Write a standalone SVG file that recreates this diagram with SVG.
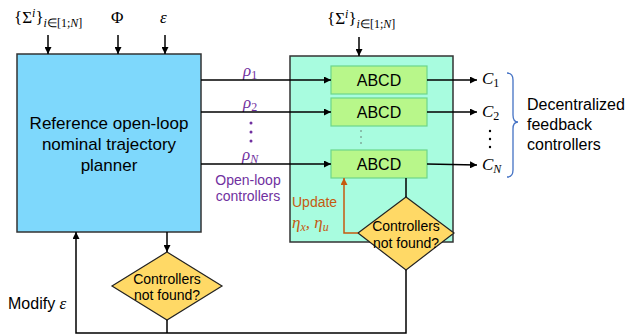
<svg xmlns="http://www.w3.org/2000/svg" width="627" height="335" viewBox="0 0 627 335">
<defs>
<marker id="ah" viewBox="0 0 10 10" refX="10" refY="5" markerWidth="7" markerHeight="7" markerUnits="userSpaceOnUse" orient="auto"><path d="M0,0 L10,5 L0,10 z" fill="#000"/></marker>
<marker id="aho" viewBox="0 0 10 10" refX="10" refY="5" markerWidth="7" markerHeight="7" markerUnits="userSpaceOnUse" orient="auto"><path d="M0,0 L10,5 L0,10 z" fill="#C55A11"/></marker>
</defs>
<style>
.t{font-family:"Liberation Sans",Arial,sans-serif;font-size:16px;fill:#000}
.ts{font-family:"Liberation Sans",Arial,sans-serif;font-size:14px;fill:#000}
.m{font-family:"Liberation Serif","Times New Roman",serif;font-style:italic;font-size:17px}
.mu{font-family:"Liberation Serif","Times New Roman",serif;font-size:17px}
.sub{font-size:12px}
.up{font-style:normal}
.pur{fill:#7030A0}
.org{fill:#C55A11}
.ln{stroke:#000;stroke-width:1.5;fill:none}
.abcd{fill:#B8F78A;stroke:#6DD68A;stroke-width:1.2}
.dia{fill:#FFD966;stroke:#222;stroke-width:1.2}
</style>
<rect width="627" height="335" fill="#fff"/>
<g id="inputs">
<text x="14" y="23" class="mu">{Σ<tspan dy="-6" class="sub m">i</tspan><tspan dy="6">}</tspan><tspan dy="4" class="sub m">i</tspan><tspan class="sub">∈[1;</tspan><tspan class="sub m">N</tspan><tspan class="sub">]</tspan></text>
<text x="111" y="23" class="mu">Φ</text>
<text x="160" y="23" class="m">ε</text>
<text x="327" y="24" class="mu">{Σ<tspan dy="-6" class="sub m">i</tspan><tspan dy="6">}</tspan><tspan dy="4" class="sub m">i</tspan><tspan class="sub">∈[1;</tspan><tspan class="sub m">N</tspan><tspan class="sub">]</tspan></text>
</g>
<g id="planner">
<rect x="17" y="54" width="184" height="178" fill="#7ED8FC" stroke="#333" stroke-width="1.5"/>
<text x="109" y="129" class="t" text-anchor="middle" style="font-size:17px">Reference open-loop</text>
<text x="109" y="150" class="t" text-anchor="middle" style="font-size:17px">nominal trajectory</text>
<text x="109" y="171" class="t" text-anchor="middle" style="font-size:17px">planner</text>
</g>
<g id="controller-box">
<rect x="290" y="56" width="163" height="186" fill="#A8FCDF" stroke="#333" stroke-width="1.5"/>
</g>
<g id="abcd1"><rect x="331" y="66" width="96" height="28" class="abcd"/><text x="379" y="86" class="t" text-anchor="middle">ABCD</text></g>
<g id="abcd2"><rect x="331" y="98" width="96" height="28" class="abcd"/><text x="379" y="118" class="t" text-anchor="middle">ABCD</text></g>
<g id="abcd3"><rect x="331" y="150" width="96" height="28" class="abcd"/><text x="379" y="170" class="t" text-anchor="middle">ABCD</text></g>
<g id="dots-mid" fill="#555"><circle cx="361" cy="131" r="0.7"/><circle cx="361" cy="137" r="0.7"/><circle cx="361" cy="143" r="0.7"/></g>
<g id="decision-inner">
<polygon points="406,197 454,233 406,270 358,233" class="dia"/>
<text x="406" y="231" class="ts" text-anchor="middle">Controllers</text>
<text x="406" y="248" class="ts" text-anchor="middle">not found?</text>
</g>
<g id="decision-outer">
<polygon points="167,252 222,286 167,320 112,286" class="dia"/>
<text x="167" y="284" class="ts" text-anchor="middle">Controllers</text>
<text x="167" y="300" class="ts" text-anchor="middle">not found?</text>
</g>
<g id="labels">
<text x="243" y="76" class="m pur">ρ<tspan dy="3" class="sub up">1</tspan></text>
<text x="243" y="108" class="m pur">ρ<tspan dy="3" class="sub up">2</tspan></text>
<g><circle cx="251" cy="123" r="1.5" fill="#7030A0"/><circle cx="251" cy="132" r="1.5" fill="#7030A0"/><circle cx="251" cy="141" r="1.5" fill="#7030A0"/></g>
<text x="242" y="160" class="m pur">ρ<tspan dy="3" class="sub">N</tspan></text>
<text x="248" y="185" class="ts pur" text-anchor="middle">Open-loop</text>
<text x="248" y="201" class="ts pur" text-anchor="middle">controllers</text>
<text x="292" y="207" class="ts org">Update</text>
<text x="292" y="228" class="m org">η<tspan dy="3" class="sub">x</tspan><tspan dy="-3">, η</tspan><tspan dy="3" class="sub">u</tspan></text>
<text x="482" y="84" class="m">C<tspan dy="3" class="sub up">1</tspan></text>
<text x="482" y="117" class="m">C<tspan dy="3" class="sub up">2</tspan></text>
<g fill="#000"><circle cx="490" cy="131" r="1.2"/><circle cx="490" cy="139" r="1.2"/><circle cx="490" cy="147" r="1.2"/></g>
<text x="482" y="170" class="m">C<tspan dy="3" class="sub">N</tspan></text>
<path d="M507,73 Q513,73 513,80 L513,115 Q513,122 518,122 Q513,122 513,129 L513,170 Q513,177 507,177" fill="none" stroke="#4472C4" stroke-width="1.3"/>
<text x="527" y="110" class="t">Decentralized</text>
<text x="527" y="130" class="t">feedback</text>
<text x="527" y="150" class="t">controllers</text>
<text x="8" y="309" class="t">Modify <tspan class="m">ε</tspan></text>
</g>
<g id="connectors">
<line x1="48" y1="35" x2="48" y2="54" class="ln" marker-end="url(#ah)"/>
<line x1="118" y1="35" x2="118" y2="54" class="ln" marker-end="url(#ah)"/>
<line x1="165" y1="35" x2="165" y2="54" class="ln" marker-end="url(#ah)"/>
<line x1="359" y1="37" x2="359" y2="56" class="ln" marker-end="url(#ah)"/>
<line x1="201" y1="80" x2="331" y2="80" class="ln" marker-end="url(#ah)"/>
<line x1="201" y1="112" x2="331" y2="112" class="ln" marker-end="url(#ah)"/>
<line x1="201" y1="164" x2="331" y2="164" class="ln" marker-end="url(#ah)"/>
<line x1="427" y1="80" x2="477" y2="80" class="ln" marker-end="url(#ah)"/>
<line x1="427" y1="112" x2="477" y2="112" class="ln" marker-end="url(#ah)"/>
<line x1="427" y1="164" x2="477" y2="165" class="ln" marker-end="url(#ah)"/>
<line x1="406" y1="178" x2="406" y2="197" class="ln"/>
<polyline points="358,233 344,233 344,178" fill="none" stroke="#C55A11" stroke-width="1.5" marker-end="url(#aho)"/>
<line x1="167" y1="232" x2="167" y2="252" class="ln" marker-end="url(#ah)"/>
<polyline points="406,270 406,333 76,333 76,232" class="ln" marker-end="url(#ah)"/>
<line x1="167" y1="320" x2="167" y2="333" class="ln"/>
</g>
</svg>
